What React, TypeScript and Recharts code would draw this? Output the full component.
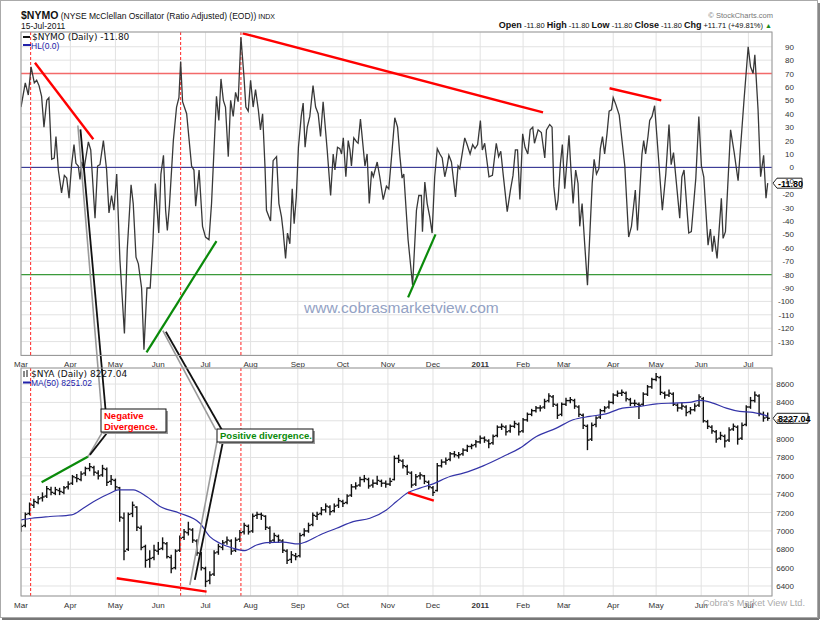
import { Bar, CartesianGrid, ComposedChart, Line, ReferenceDot, ReferenceLine, XAxis, YAxis } from 'recharts'

const FONT = "'Liberation Sans', Arial, sans-serif"

// trading-day index of each month start (day 0 = 1-Mar-2010)
const monthTicks = [0, 23, 44, 64, 86, 107, 129, 150, 171, 192, 214, 234, 253, 276, 296, 317, 339]
const monthLabels = ['Mar', 'Apr', 'May', 'Jun', 'Jul', 'Aug', 'Sep', 'Oct', 'Nov', 'Dec', '2011', 'Feb', 'Mar', 'Apr', 'May', 'Jun', 'Jul']
const markerDays = [4.5, 74.4, 102.5]

const nymoTicks = [90, 80, 70, 60, 50, 40, 30, 20, 10, 0, -10, -20, -30, -40, -50, -60, -70, -80, -90, -100, -110, -120, -130]
const nyaTicks = [8600, 8400, 8200, 8000, 7800, 7600, 7400, 7200, 7000, 6800, 6600, 6400]

// [day, NYMO]
const nymoPoints: [number, number][] = [
  [0, 45], [2, 63], [3.4, 54], [4.7, 75], [6.2, 63], [7.3, 65], [8.4, 61], [9.6, 53], [10.7, 30], [12, 50],
  [13, 52], [14.3, 6], [15.5, 7], [16.3, 23], [17.4, -2], [18.9, -19], [20.2, -6], [21.3, -8], [22.4, -23], [23.6, 2],
  [24.7, 17], [25.6, 3], [26.7, 1], [27.5, -9], [28.3, 4], [29.3, -2], [30.3, 8], [31.4, 19], [32.5, 13], [34.5, -38],
  [35.7, 1], [36.8, 2], [38.4, 20], [39.9, -2], [41, -34], [42.2, -21], [43.3, -32], [44.6, -5], [46.1, -69], [48.2, -124],
  [49.5, -62], [51.3, -13], [52.3, -27], [53.6, -67], [54.7, -72], [56.2, -90], [57.3, -136], [58.7, -90], [60.2, -90], [61.5, -55],
  [62.6, -12], [64.2, -49], [65.2, -5], [66.4, 9], [67.4, -32], [68.2, -47], [69.2, -28], [71, 20], [72.5, 45], [73.6, 52],
  [74.4, 79], [75.3, 49], [77.2, 40], [79.5, 1], [80.6, -2], [81.4, -29], [83, -2], [84.6, -44], [86, -52], [87.6, -54],
  [88.8, -27], [91.1, 53], [92.2, 35], [93.2, 66], [94.3, 50], [95.3, 45], [96.6, 8], [97.7, 50], [98.9, 38], [100, 56],
  [101.2, 49], [102.5, 97], [103.9, 68], [104.8, 45], [105.9, 42], [107, 65], [108.2, 45], [109.3, 58], [110.6, 43], [111.6, 28],
  [112.6, 40], [113.7, 1], [114.4, -32], [116.3, -40], [117.5, 5], [119.1, 8], [120.2, -27], [121.4, -37], [122.2, -48], [123.3, -68],
  [124.2, -49], [125.3, -57], [126.4, -16], [127.3, -42], [128.3, -22], [129.3, 15], [130.6, 38], [131.5, 48], [132.4, 15], [133.4, 30],
  [134.6, 38], [136.1, 61], [137.3, 45], [138.5, 40], [139.6, 23], [140.8, 49], [142.7, 13], [144.3, -21], [145.5, 10], [146.3, -2],
  [147.5, 15], [148.6, 14], [149.4, 10], [150.2, 22], [151.4, -7], [152.5, 20], [153.3, 13], [154, 1], [155.1, 22], [156.4, 19],
  [157.1, 18], [158.2, 36], [160.3, 1], [161.3, 10], [162.3, -27], [163.4, -3], [164.2, -7], [166, 4], [167.2, -7], [168.8, -24],
  [170.3, -14], [171.4, -16], [172.7, 8], [174.2, 37], [175.5, 30], [176.6, 8], [177.6, -8], [178.4, -5], [180.4, -54], [182.5, -88],
  [183.5, -57], [184.3, -32], [185.4, -21], [186.6, -21], [187.1, -48], [188.2, -11], [189.3, -27], [190.5, -37], [191.6, -49], [192.8, -7],
  [194, 14], [195.2, 10], [196.3, 7], [197.5, -7], [198.6, 1], [199.4, 9], [200.6, 4], [201.4, -7], [202.5, -22], [203.7, 1],
  [204.5, -1], [206.8, 22], [207.9, 17], [209.3, 10], [210.5, 17], [211.6, 14], [212.8, 17], [214.1, 35], [215, 13], [216.1, 18],
  [218.1, -7], [219.7, -6], [221.5, 18], [222.6, 8], [223.6, 12], [224.7, -5], [226.6, -33], [228.1, -17], [229.3, -6], [230.4, 13],
  [231.4, 13], [232.5, -24], [233.8, 25], [234.9, 15], [236.2, 10], [237.3, 28], [238.5, 30], [239.3, 18], [241, 28], [242.5, 26],
  [244.1, 7], [244.9, 28], [246.4, 32], [247.5, 30], [248.3, -14], [249.5, -32], [250.3, -24], [251.4, 3], [252.3, 17], [253.4, -16],
  [254.5, 6], [255.4, 24], [256.2, 1], [257.3, -27], [258.5, -2], [259.6, -12], [260.4, -44], [261.5, -27], [262.7, -57], [264, -88],
  [266.2, -12], [267.1, 6], [268.2, -5], [269.3, -1], [270, 14], [271, 23], [272, 10], [273.1, 25], [274.1, 42], [275.2, 43],
  [276, 52], [277.2, 47], [278.8, 39], [281.4, 1], [283.2, -52], [284.5, -44], [286.3, -17], [287.3, -47], [289.4, 10], [290.2, 20],
  [291.1, 10], [292.2, 23], [293, 35], [294.1, 38], [295.3, 46], [298.9, -32], [300.5, -5], [302, 32], [303, 2], [304.1, 11],
  [307, -38], [308, -7], [309, -2], [311.2, -49], [312.4, -48], [314.5, -8], [315.9, 38], [317.1, 1], [318.2, -7], [320.2, -58],
  [321.3, -46], [322.2, -63], [323, -51], [324.4, -68], [326.4, -23], [327.2, -53], [328.3, -48], [330.7, 28], [332.3, 12], [334.2, -10],
  [336.9, 49], [338.9, 90], [340, 75], [341.2, 70], [342, 84], [343.5, 43], [344.7, -7], [346.1, 9], [347.2, -23], [348, -11.8],
]

// [day, open, high, low, close]
const nyaBars: [number, number, number, number, number][] = [
  [0, 7000, 7080, 6990, 7050], [2, 7060, 7200, 7040, 7180], [4, 7190, 7310, 7170, 7290], [6, 7280, 7350, 7250, 7320],
  [8, 7310, 7380, 7290, 7350], [10, 7360, 7420, 7320, 7370], [12, 7380, 7490, 7360, 7460], [14, 7450, 7480, 7390, 7420],
  [16, 7410, 7480, 7390, 7450], [18, 7440, 7470, 7390, 7430], [20, 7420, 7490, 7400, 7470], [22, 7480, 7540, 7450, 7510],
  [24, 7520, 7610, 7500, 7590], [26, 7580, 7620, 7530, 7570], [28, 7560, 7650, 7540, 7620], [30, 7630, 7700, 7600, 7680],
  [32, 7680, 7740, 7650, 7700], [34, 7690, 7710, 7600, 7640], [36, 7630, 7660, 7560, 7600], [38, 7610, 7720, 7590, 7680],
  [40, 7670, 7690, 7490, 7530], [42, 7540, 7610, 7500, 7560], [44, 7550, 7570, 7440, 7480], [46, 7470, 7480, 7100, 7150],
  [48, 7140, 7200, 6680, 6780], [50, 6800, 7200, 6780, 7180], [52, 7190, 7320, 7150, 7280], [54, 7260, 7270, 7000, 7040],
  [56, 7030, 7060, 6790, 6820], [58, 6830, 6850, 6600, 6680], [60, 6690, 6790, 6600, 6700], [62, 6710, 6850, 6680, 6790],
  [64, 6780, 6880, 6740, 6800], [66, 6810, 6930, 6790, 6870], [68, 6860, 6880, 6700, 6720], [70, 6710, 6740, 6540, 6590],
  [72, 6600, 6800, 6580, 6780], [74, 6790, 6950, 6770, 6920], [76, 6930, 7020, 6900, 6990], [78, 6980, 7100, 6950, 7020],
  [80, 7010, 7030, 6870, 6900], [82, 6890, 6910, 6730, 6760], [84, 6750, 6770, 6570, 6600], [86, 6590, 6610, 6390, 6450],
  [88, 6460, 6560, 6420, 6520], [90, 6530, 6790, 6510, 6760], [92, 6770, 6860, 6740, 6830], [94, 6820, 6900, 6790, 6870],
  [96, 6880, 6940, 6850, 6900], [98, 6890, 6910, 6740, 6780], [100, 6790, 6930, 6770, 6900], [102, 6910, 7010, 6880, 6980],
  [104, 6990, 7090, 6960, 7060], [106, 7050, 7070, 6960, 6990], [108, 7000, 7190, 6980, 7160], [110, 7170, 7210, 7130, 7180],
  [112, 7180, 7200, 7120, 7170], [114, 7160, 7170, 7010, 7040], [116, 7030, 7050, 6860, 6890], [118, 6900, 6980, 6870, 6950],
  [120, 6940, 6960, 6870, 6900], [122, 6890, 6910, 6760, 6790], [124, 6780, 6800, 6640, 6680], [126, 6690, 6780, 6650, 6740],
  [128, 6730, 6760, 6680, 6720], [130, 6730, 6980, 6710, 6950], [132, 6960, 7030, 6940, 7000], [134, 7000, 7090, 6980, 7060],
  [136, 7070, 7200, 7050, 7170], [138, 7160, 7210, 7120, 7180], [140, 7190, 7260, 7170, 7230], [142, 7230, 7300, 7200, 7270],
  [144, 7260, 7280, 7170, 7210], [146, 7220, 7300, 7200, 7270], [148, 7280, 7360, 7250, 7330], [150, 7320, 7340, 7260, 7300],
  [152, 7310, 7400, 7290, 7380], [154, 7390, 7510, 7370, 7480], [156, 7480, 7530, 7450, 7490], [158, 7500, 7590, 7480, 7560],
  [160, 7560, 7610, 7530, 7570], [162, 7560, 7580, 7460, 7490], [164, 7500, 7560, 7470, 7520], [166, 7520, 7600, 7500, 7550],
  [168, 7540, 7560, 7480, 7520], [170, 7520, 7550, 7470, 7510], [172, 7510, 7580, 7490, 7540], [174, 7560, 7820, 7550, 7790],
  [176, 7790, 7830, 7740, 7770], [178, 7760, 7780, 7680, 7710], [180, 7700, 7720, 7610, 7640], [182, 7630, 7650, 7470, 7500],
  [184, 7510, 7620, 7490, 7590], [186, 7600, 7640, 7560, 7610], [188, 7600, 7610, 7510, 7540], [190, 7530, 7550, 7450, 7480],
  [192, 7470, 7490, 7380, 7420], [194, 7440, 7740, 7430, 7710], [196, 7710, 7780, 7690, 7750], [198, 7750, 7800, 7720, 7770],
  [200, 7780, 7860, 7760, 7840], [202, 7840, 7870, 7800, 7830], [204, 7820, 7860, 7790, 7830], [206, 7840, 7900, 7820, 7880],
  [208, 7880, 7940, 7860, 7920], [210, 7920, 7950, 7890, 7930], [212, 7940, 7990, 7910, 7970], [214, 7970, 8040, 7950, 8010],
  [216, 8010, 8030, 7960, 7990], [218, 7980, 8000, 7900, 7950], [220, 7960, 8050, 7940, 8030], [222, 8040, 8150, 8020, 8130],
  [224, 8130, 8170, 8100, 8140], [226, 8130, 8150, 8040, 8080], [228, 8090, 8160, 8070, 8140], [230, 8140, 8200, 8120, 8170],
  [232, 8160, 8180, 8040, 8080], [234, 8090, 8230, 8070, 8210], [236, 8210, 8290, 8190, 8270], [238, 8270, 8330, 8250, 8310],
  [240, 8310, 8360, 8290, 8340], [242, 8340, 8370, 8300, 8340], [244, 8350, 8440, 8330, 8410], [246, 8420, 8500, 8400, 8470],
  [248, 8460, 8480, 8350, 8380], [250, 8370, 8390, 8220, 8260], [252, 8270, 8400, 8250, 8380], [254, 8380, 8450, 8360, 8420],
  [256, 8420, 8460, 8390, 8430], [258, 8420, 8440, 8330, 8360], [260, 8350, 8370, 8240, 8270], [262, 8260, 8280, 8110, 8150],
  [264, 8140, 8160, 7880, 7990], [266, 8000, 8180, 7980, 8150], [268, 8160, 8250, 8130, 8230], [270, 8240, 8330, 8220, 8310],
  [272, 8310, 8360, 8290, 8340], [274, 8350, 8420, 8330, 8400], [276, 8400, 8500, 8380, 8480], [278, 8480, 8530, 8460, 8500],
  [280, 8500, 8540, 8470, 8510], [282, 8500, 8520, 8410, 8440], [284, 8430, 8450, 8360, 8390], [286, 8390, 8430, 8360, 8390],
  [288, 8380, 8400, 8220, 8370], [290, 8380, 8510, 8360, 8490], [292, 8490, 8590, 8470, 8570], [294, 8570, 8670, 8550, 8650],
  [296, 8650, 8720, 8630, 8680], [298, 8670, 8690, 8480, 8510], [300, 8500, 8520, 8440, 8480], [302, 8480, 8540, 8460, 8500],
  [304, 8490, 8510, 8360, 8380], [306, 8370, 8390, 8300, 8340], [308, 8340, 8400, 8320, 8360], [310, 8350, 8370, 8250, 8290],
  [312, 8300, 8350, 8270, 8320], [314, 8320, 8390, 8300, 8360], [316, 8370, 8490, 8350, 8460], [318, 8440, 8460, 8180, 8200],
  [320, 8190, 8210, 8110, 8140], [322, 8130, 8150, 8060, 8090], [324, 8080, 8100, 7960, 8000], [326, 8010, 8080, 7990, 8040],
  [328, 8030, 8050, 7910, 7980], [330, 7990, 8130, 7970, 8100], [332, 8110, 8170, 8090, 8140], [334, 8130, 8150, 7940, 8000],
  [336, 8010, 8180, 7990, 8150], [338, 8160, 8370, 8140, 8350], [340, 8350, 8460, 8330, 8420], [342, 8420, 8520, 8400, 8480],
  [344, 8470, 8490, 8250, 8280], [346, 8270, 8300, 8190, 8230], [348, 8240, 8290, 8200, 8227.04],
]

// [day, MA(50)]
const maPoints: [number, number][] = [
  [0, 7120], [5, 7138], [13.5, 7157], [23.6, 7175], [29, 7247], [35.2, 7338], [41.5, 7411], [45.3, 7447], [52.3, 7447], [58.5, 7375],
  [64.8, 7266], [74, 7193], [83.4, 7084], [88, 6938], [92.7, 6866], [98.9, 6811], [104.3, 6786], [109.8, 6847], [114.4, 6873], [122.2, 6877],
  [129.2, 6858], [133.1, 6884], [139.3, 6956], [147.1, 7029], [154.8, 7102], [162.6, 7138], [170.3, 7229], [175, 7320], [180.4, 7418], [185.9, 7466],
  [192.1, 7513], [199.9, 7593], [206.1, 7629], [215.4, 7709], [224.7, 7811], [232.5, 7902], [240.2, 8029], [249.5, 8120], [257.3, 8211], [265, 8247],
  [272.6, 8276], [280.3, 8338], [288.4, 8356], [296.2, 8385], [304, 8393], [311.6, 8400], [316.3, 8422], [322.5, 8393], [328.7, 8338], [334.9, 8302],
  [341.1, 8291], [348, 8251],
]

// hand-drawn trend lines, [[day, value], [day, value]]
const nymoRedLines = [[[6.5, 78], [33.7, 21]], [[103.3, 100], [243.3, 41]], [[274.3, 59], [298.4, 50]]]
const nymoGreenLines = [[[58.5, -138], [91.1, -55]], [[180.4, -97], [193.2, -50]]]
const nyaRedLines = [[[44.6, 6484], [86.5, 6338]], [[180.4, 7418], [192.4, 7330]]]
const nyaGreenLines = [[[9.6, 7531], [31.3, 7810]]]
// callout pointers, in NYA units (they reach up into the oscillator panel)
const calloutGrey = [[[26.5, 11417], [37.5, 8320]], [[38, 8080], [31.2, 7807]], [[66.1, 9181], [90.8, 8102]], [[91.3, 7971], [78.7, 6411]]]
const calloutBlack = [[[27.7, 11374], [39.4, 8320]], [[39.8, 8058], [32.1, 7829]], [[67.5, 9170], [93.6, 8102]], [[94.1, 7971], [81, 6466]]]

const nymoRows = nymoPoints.map(([d, v]) => ({ d, v }))
const nyaRows = nyaBars.map(([d, open, high, low, close]) => ({ d, open, high, low, close, range: [low, high] }))
const maRows = maPoints.map(([d, ma]) => ({ d, ma }))
const lastNymo = nymoPoints[nymoPoints.length - 1][1]
const lastNya = nyaBars[nyaBars.length - 1][4]

const seg = (s: number[][]) => [{ x: s[0][0], y: s[0][1] }, { x: s[1][0], y: s[1][1] }]

const MonthTick = ({ x, y, payload }: any) => {
  const label = monthLabels[monthTicks.indexOf(payload.value)]
  return (
    <text x={x} y={y + 10} textAnchor="middle" fontSize={8} fontFamily={FONT} fill="#333" fontWeight={label === '2011' ? 'bold' : 'normal'}>
      {label}
    </text>
  )
}

const ValueTick = ({ x, y, payload }: any) => (
  <text x={x + 20} y={y + 3} textAnchor="end" fontSize={8} fontFamily={FONT} fill="#333">
    {payload.value}
  </text>
)

const OhlcShape = (props: any) => {
  const { x, y, width, height, payload } = props
  if (payload == null || height == null) return null
  const top = Math.min(y, y + height)
  const bottom = Math.max(y, y + height)
  const span = payload.high - payload.low || 1
  const toY = (v: number) => top + ((payload.high - v) / span) * (bottom - top)
  const cx = x + width / 2
  return (
    <g stroke="#111" strokeWidth={1.4}>
      <line x1={cx} x2={cx} y1={top} y2={bottom} />
      <line x1={cx - 2.2} x2={cx} y1={toY(payload.open)} y2={toY(payload.open)} />
      <line x1={cx} x2={cx + 2.2} y1={toY(payload.close)} y2={toY(payload.close)} />
    </g>
  )
}

const ValueTag = ({ cx, cy, text, w }: any) => (
  <g>
    <polygon
      points={`${cx + 1},${cy} ${cx + 5},${cy - 5} ${cx + w},${cy - 5} ${cx + w},${cy + 5} ${cx + 5},${cy + 5}`}
      fill="#fff"
      stroke="#222"
      strokeWidth={1}
    />
    <text x={cx + 6} y={cy + 3.5} fontSize={9} fontWeight="bold" fontFamily={FONT} fill="#000">
      {text}
    </text>
  </g>
)

const NymoPanel = () => (
  <ComposedChart width={820} height={367} data={nymoRows} margin={{ top: 32, right: 8, bottom: 0, left: 21 }}>
    <CartesianGrid stroke="#e2e2e2" />
    <XAxis dataKey="d" type="number" domain={[0, 350]} allowDataOverflow ticks={monthTicks} tick={<MonthTick />} tickLine={false} axisLine={false} tickSize={0} height={12} interval={0} />
    <YAxis orientation="right" type="number" domain={[-140, 101]} allowDataOverflow ticks={nymoTicks} tick={<ValueTick />} tickLine={false} axisLine={false} tickSize={0} width={40} interval={0} />
    <ReferenceLine y={70} stroke="#f36a6a" strokeWidth={1.6} />
    <ReferenceLine y={-80} stroke="#3a9a3a" strokeWidth={1.4} />
    <ReferenceLine y={0} stroke="#22228a" strokeWidth={1} />
    {markerDays.map((d) => (
      <ReferenceLine key={d} x={d} stroke="#f22" strokeDasharray="3 2" />
    ))}
    <Line dataKey="v" type="linear" dot={false} stroke="#383838" strokeWidth={1.3} isAnimationActive={false} />
    {nymoRedLines.map((s, i) => (
      <ReferenceLine key={'r' + i} segment={seg(s)} stroke="#f00" strokeWidth={2.4} ifOverflow="visible" />
    ))}
    {nymoGreenLines.map((s, i) => (
      <ReferenceLine key={'g' + i} segment={seg(s)} stroke="#0a8a0a" strokeWidth={2.2} ifOverflow="visible" />
    ))}
    <ReferenceDot x={350} y={lastNymo} r={0} ifOverflow="visible" shape={(p: any) => <ValueTag cx={p.cx} cy={p.cy} w={30} text={lastNymo.toFixed(2)} />} />
  </ComposedChart>
)

const NyaPanel = () => (
  <ComposedChart width={820} height={245} data={nyaRows} margin={{ top: 2, right: 8, bottom: 3, left: 21 }}>
    <CartesianGrid stroke="#e2e2e2" />
    <XAxis dataKey="d" type="number" domain={[0, 350]} allowDataOverflow ticks={monthTicks} tick={<MonthTick />} tickLine={false} axisLine={false} tickSize={0} height={12} interval={0} />
    <YAxis orientation="right" type="number" domain={[6291, 8775]} allowDataOverflow ticks={nyaTicks} tick={<ValueTick />} tickLine={false} axisLine={false} tickSize={0} width={40} interval={0} />
    {markerDays.map((d) => (
      <ReferenceLine key={d} x={d} stroke="#f22" strokeDasharray="3 2" />
    ))}
    <Bar dataKey="range" barSize={4} shape={<OhlcShape />} isAnimationActive={false} />
    <Line data={maRows} dataKey="ma" type="monotone" dot={false} stroke="#3434a8" strokeWidth={1.2} isAnimationActive={false} />
    {nyaRedLines.map((s, i) => (
      <ReferenceLine key={'r' + i} segment={seg(s)} stroke="#f00" strokeWidth={2.4} ifOverflow="visible" />
    ))}
    {nyaGreenLines.map((s, i) => (
      <ReferenceLine key={'g' + i} segment={seg(s)} stroke="#0a8a0a" strokeWidth={2.2} ifOverflow="visible" />
    ))}
    {calloutGrey.map((s, i) => (
      <ReferenceLine key={'cg' + i} segment={seg(s)} stroke="#9a9a9a" strokeWidth={1.6} ifOverflow="visible" />
    ))}
    {calloutBlack.map((s, i) => (
      <ReferenceLine key={'cb' + i} segment={seg(s)} stroke="#111" strokeWidth={1.8} ifOverflow="visible" />
    ))}
    <ReferenceDot x={350} y={lastNya} r={0} ifOverflow="visible" shape={(p: any) => <ValueTag cx={p.cx} cy={p.cy} w={36} text={lastNya.toFixed(2)} />} />
  </ComposedChart>
)

const NoteBox = ({ x, y, w, h, color, lines }: any) => (
  <g>
    <rect x={x + 2} y={y + 2} width={w} height={h} fill="#999" />
    <rect x={x} y={y} width={w} height={h} fill="#fff" stroke="#111" strokeWidth={1} />
    {lines.map((t: string, i: number) => (
      <text key={i} x={x + 3} y={y + 10 + i * 11} fontSize={9.5} fontWeight="bold" fontFamily={FONT} fill={color}>
        {t}
      </text>
    ))}
  </g>
)

const Overlay = () => (
  <svg width={820} height={621} style={{ position: 'absolute', left: 0, top: 0, pointerEvents: 'none' }}>
    <rect x={0.5} y={0.5} width={817} height={617} fill="none" stroke="#aaa" />
    <line x1={2} x2={819} y1={619} y2={619} stroke="#777" strokeWidth={2} />
    <line x1={819} x2={819} y1={3} y2={619} stroke="#888" strokeWidth={2} />
    <rect x={21} y={32} width={751} height={323.5} fill="none" stroke="#999" />
    <rect x={21} y={368} width={751} height={228} fill="none" stroke="#999" />

    <text x={21} y={19} fontFamily={FONT} fill="#111">
      <tspan fontSize={10.5} fontWeight="bold">$NYMO</tspan>
      <tspan fontSize={8.5}> (NYSE McClellan Oscillator (Ratio Adjusted) (EOD))</tspan>
      <tspan fontSize={7}> INDX</tspan>
    </text>
    <text x={21} y={29} fontSize={8.5} fontFamily={FONT} fill="#111">15-Jul-2011</text>
    <text x={773} y={18} textAnchor="end" fontSize={7.5} fontFamily={FONT} fill="#777">© StockCharts.com</text>
    <text x={772} y={28} textAnchor="end" fontFamily={FONT} fill="#111">
      <tspan fontSize={9} fontWeight="bold">Open</tspan>
      <tspan fontSize={7.5}> -11.80 </tspan>
      <tspan fontSize={9} fontWeight="bold">High</tspan>
      <tspan fontSize={7.5}> -11.80 </tspan>
      <tspan fontSize={9} fontWeight="bold">Low</tspan>
      <tspan fontSize={7.5}> -11.80 </tspan>
      <tspan fontSize={9} fontWeight="bold">Close</tspan>
      <tspan fontSize={7.5}> -11.80 </tspan>
      <tspan fontSize={9} fontWeight="bold">Chg</tspan>
      <tspan fontSize={7.5}> +11.71 (+49.81%) </tspan>
      <tspan fontSize={7} fill="#1a8a1a">▲</tspan>
    </text>

    <line x1={23} x2={30} y1={37} y2={37} stroke="#111" strokeWidth={2} />
    <text x={32} y={40} fontSize={9} fontFamily="'DejaVu Sans', sans-serif" fill="#111">$NYMO (Daily) -11.80</text>
    <line x1={23} x2={31} y1={45} y2={45} stroke="#2222aa" strokeWidth={2} />
    <text x={31} y={48.5} fontSize={8.5} fontFamily={FONT} fill="#2222aa">HL(0.0)</text>

    <line x1={24} x2={24} y1={371} y2={377} stroke="#111" />
    <line x1={27} x2={27} y1={370} y2={377} stroke="#111" />
    <text x={31} y={377} fontSize={9} fontFamily="'DejaVu Sans', sans-serif" fill="#111">$NYA (Daily) 8227.04</text>
    <line x1={23} x2={31} y1={382.5} y2={382.5} stroke="#2222aa" strokeWidth={2} />
    <text x={31} y={386} fontSize={8.5} fontFamily={FONT} fill="#2222aa">MA(50) 8251.02</text>

    <text x={304} y={313} fontSize={15.5} fontFamily={FONT} fill="#93a2c4">www.cobrasmarketview.com</text>
    <text x={805} y={606} textAnchor="end" fontSize={9.2} fontFamily={FONT} fill="#aaa">Cobra's Market View Ltd.</text>

    <NoteBox x={101} y={409} w={65} h={23} color="#f00" lines={['Negative', 'Divergence.']} />
    <NoteBox x={217} y={429} w={96} h={13} color="#0a8a0a" lines={['Positive divergence.']} />
  </svg>
)

export default function App() {
  return (
    <div style={{ position: 'absolute', left: 0, top: 0, width: 820, height: 621, background: '#fff', overflow: 'hidden' }}>
      <style>{'.recharts-surface{overflow:visible}.recharts-wrapper{overflow:visible}'}</style>
      <div style={{ position: 'absolute', left: 0, top: 0 }}>
        <NymoPanel />
      </div>
      <div style={{ position: 'absolute', left: 0, top: 366 }}>
        <NyaPanel />
      </div>
      <Overlay />
    </div>
  )
}
